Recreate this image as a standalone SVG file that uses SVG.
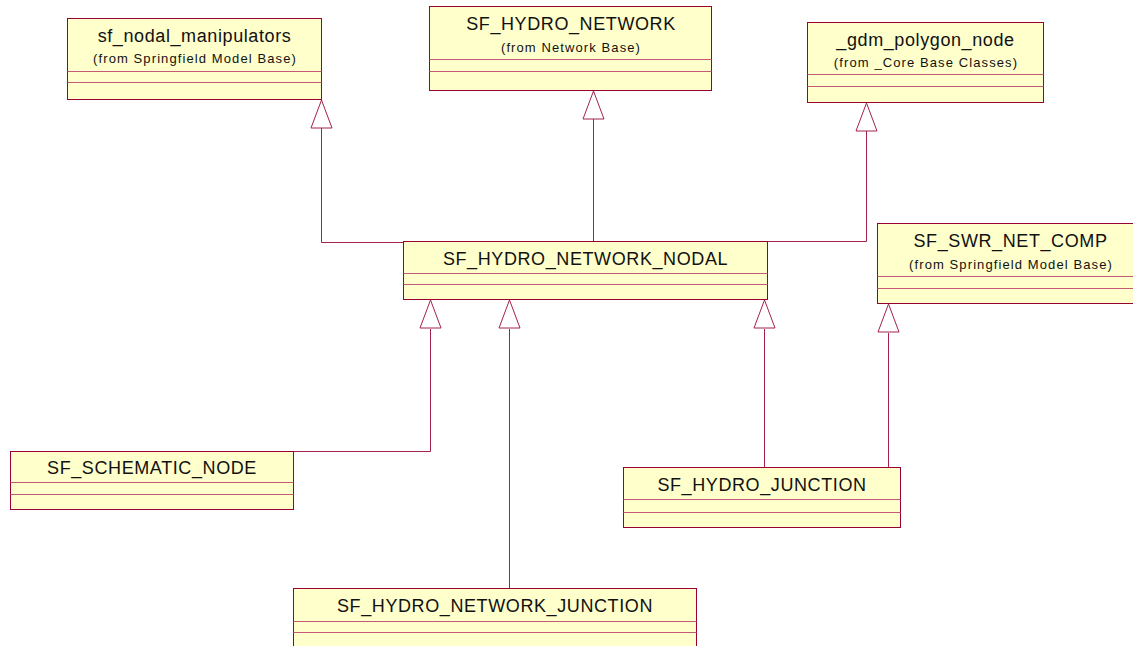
<svg xmlns="http://www.w3.org/2000/svg" xmlns:xlink="http://www.w3.org/1999/xlink" width="1133" height="646" viewBox="0 0 1133 646">
  <style>
    .box { fill: #FFFFCC; stroke: #990033; stroke-width: 1; }
    .sep { stroke: #C45A78; stroke-width: 1; fill: none; }
    .title { font-family: "Liberation Sans", Arial, sans-serif; font-size: 18px; letter-spacing: 0.6px; fill: #111; text-anchor: middle; }
    .sub { font-family: "Liberation Sans", Arial, sans-serif; font-size: 13px; letter-spacing: 1.1px; fill: #111; text-anchor: middle; }
    .edge { stroke: #A3224C; stroke-width: 1; fill: none; }
    .head { fill: #FFFFFF; stroke: #A3224C; stroke-width: 1; }
  </style>
  <defs>
    <!-- hollow generalization triangle, tip at origin pointing up -->
    <polygon id="gen" class="head" points="0,0 -10.5,28 10.5,28"/>
  </defs>
  <rect width="1133" height="646" fill="#FFFFFF"/>

  <!-- inheritance connectors -->
  <g id="connectors">
    <polyline class="edge" points="321.5,128 321.5,242.5 403,242.5"/>
    <polyline class="edge" points="593.5,119 593.5,241"/>
    <polyline class="edge" points="866.5,131 866.5,241.5 767,241.5"/>
    <polyline class="edge" points="430.5,329 430.5,451.5 293,451.5"/>
    <polyline class="edge" points="509.5,329 509.5,588"/>
    <polyline class="edge" points="764.5,329 764.5,467"/>
    <polyline class="edge" points="888.5,333 888.5,467"/>
    <use xlink:href="#gen" href="#gen" x="321.5" y="100"/>
    <use xlink:href="#gen" href="#gen" x="593.5" y="91"/>
    <use xlink:href="#gen" href="#gen" x="866.5" y="103"/>
    <use xlink:href="#gen" href="#gen" x="430.5" y="300"/>
    <use xlink:href="#gen" href="#gen" x="509.5" y="300"/>
    <use xlink:href="#gen" href="#gen" x="764.5" y="300"/>
    <use xlink:href="#gen" href="#gen" x="888.5" y="304"/>
  </g>

  <g id="sf_nodal_manipulators">
    <rect class="box" x="67.5" y="18.5" width="254" height="81"/>
    <line class="sep" x1="67.5" y1="71.5" x2="321.5" y2="71.5"/>
    <line class="sep" x1="67.5" y1="82.5" x2="321.5" y2="82.5"/>
    <text class="title" x="194.5" y="42">sf_nodal_manipulators</text>
    <text class="sub" x="195" y="63">(from Springfield Model Base)</text>
  </g>

  <g id="SF_HYDRO_NETWORK">
    <rect class="box" x="429.5" y="6.5" width="282" height="84"/>
    <line class="sep" x1="429.5" y1="59.5" x2="711.5" y2="59.5"/>
    <line class="sep" x1="429.5" y1="71.5" x2="711.5" y2="71.5"/>
    <text class="title" x="571" y="29.5">SF_HYDRO_NETWORK</text>
    <text class="sub" x="571" y="52">(from Network Base)</text>
  </g>

  <g id="_gdm_polygon_node">
    <rect class="box" x="807.5" y="22.5" width="236" height="80"/>
    <line class="sep" x1="807.5" y1="74.5" x2="1043.5" y2="74.5"/>
    <line class="sep" x1="807.5" y1="86.5" x2="1043.5" y2="86.5"/>
    <text class="title" x="925.5" y="45.5">_gdm_polygon_node</text>
    <text class="sub" x="926" y="67">(from _Core Base Classes)</text>
  </g>

  <g id="SF_HYDRO_NETWORK_NODAL">
    <rect class="box" x="403.5" y="241.5" width="364" height="58"/>
    <line class="sep" x1="403.5" y1="273.5" x2="767.5" y2="273.5"/>
    <line class="sep" x1="403.5" y1="284.5" x2="767.5" y2="284.5"/>
    <text class="title" x="585.5" y="264.5">SF_HYDRO_NETWORK_NODAL</text>
  </g>

  <g id="SF_SWR_NET_COMP">
    <rect class="box" x="877.5" y="223.5" width="266" height="80"/>
    <line class="sep" x1="877.5" y1="276.5" x2="1143.5" y2="276.5"/>
    <line class="sep" x1="877.5" y1="288.5" x2="1143.5" y2="288.5"/>
    <text class="title" x="1010.5" y="247">SF_SWR_NET_COMP</text>
    <text class="sub" x="1011" y="268.5">(from Springfield Model Base)</text>
  </g>

  <g id="SF_SCHEMATIC_NODE">
    <rect class="box" x="10.5" y="451.5" width="283" height="58"/>
    <line class="sep" x1="10.5" y1="482.5" x2="293.5" y2="482.5"/>
    <line class="sep" x1="10.5" y1="494.5" x2="293.5" y2="494.5"/>
    <text class="title" x="152" y="473.5">SF_SCHEMATIC_NODE</text>
  </g>

  <g id="SF_HYDRO_JUNCTION">
    <rect class="box" x="623.5" y="467.5" width="277" height="60"/>
    <line class="sep" x1="623.5" y1="499.5" x2="900.5" y2="499.5"/>
    <line class="sep" x1="623.5" y1="512.5" x2="900.5" y2="512.5"/>
    <text class="title" x="762" y="491">SF_HYDRO_JUNCTION</text>
  </g>

  <g id="SF_HYDRO_NETWORK_JUNCTION">
    <rect class="box" x="293.5" y="588.5" width="403" height="70"/>
    <line class="sep" x1="293.5" y1="621.5" x2="696.5" y2="621.5"/>
    <line class="sep" x1="293.5" y1="632.5" x2="696.5" y2="632.5"/>
    <text class="title" x="495" y="611.5">SF_HYDRO_NETWORK_JUNCTION</text>
  </g>
</svg>
